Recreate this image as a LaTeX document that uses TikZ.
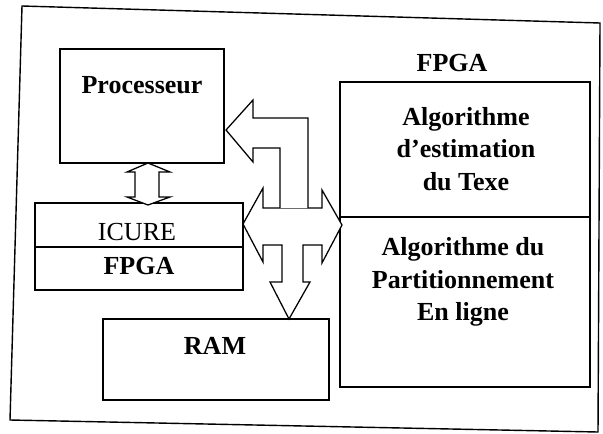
\documentclass[tikz,border=0pt]{standalone}
\usepackage{fontspec}
\setmainfont{Liberation Serif}
\begin{document}
\begin{tikzpicture}[x=0.025cm,y=-0.025cm]
    \tikzset{box/.style = {shape=rectangle,draw,line width=0.9pt,inner sep=0pt}}
    \tikzset{lbl/.style = {shape=rectangle,draw=none,inner sep=0pt,font=\fontsize{18.5}{23}\selectfont\bfseries,align=center}}
    \tikzset{blockarrow/.style = {draw,line width=0.9pt,line join=miter,fill=white}}

    \useasboundingbox (0,0) rectangle (603,433);
    % frame
    \draw[line width=1pt] (22,6) -- (600,23) -- (598,432) -- (10,420) -- cycle;

    % blocks
    \node[box,minimum width=4.1cm,minimum height=2.85cm] (proc) at (142,106) {};
    \node[box,minimum width=5.2cm,minimum height=1.1cm] (icure) at (139,225) {};
    \node[box,minimum width=5.2cm,minimum height=1.075cm] (fpgal) at (139,268.5) {};
    \node[box,minimum width=5.65cm,minimum height=2.025cm] (ram) at (216,359.5) {};
    \node[box,minimum width=6.25cm,minimum height=3.375cm] (estim) at (465,149.5) {};
    \node[box,minimum width=6.25cm,minimum height=4.25cm] (part) at (465,302) {};

    % texts
    \node[lbl] (proclbl) at (142,85) {Processeur};
    \node[lbl,font=\fontsize{18.5}{23}\selectfont] (icurelbl) at (137,232) {ICURE};
    \node[lbl] (fpgallbl) at (139,266) {FPGA};
    \node[lbl] (ramlbl) at (215,346) {RAM};
    \node[lbl] (fpgalbl) at (452,63) {FPGA};
    \node[lbl] (estimlbl) at (466,149) {Algorithme\\d'estimation\\du Texe};
    \node[lbl] (partlbl) at (463,282) {Algorithme du\\Partitionnement\\En ligne};

    % processeur <-> icure
    \draw[blockarrow] (148,163) -- (170,172) -- (159,172) -- (159,197) -- (170,197)
        -- (148,205) -- (127,197) -- (135,197) -- (135,172) -- (127,172) -- cycle;

    % bus: icure <-> algorithmes, down to ram
    \draw[blockarrow] (243,224) -- (263,188) -- (263,208) -- (322,208) -- (322,190)
        -- (342,225) -- (322,263) -- (322,245) -- (303,245) -- (303,282) -- (310,282)
        -- (289,319) -- (270,282) -- (282,282) -- (282,245) -- (263,245) -- (263,262) -- cycle;
    % up to processeur
    \draw[blockarrow] (280,208) -- (280,148) -- (253,148) -- (253,162) -- (226,130)
        -- (253,100) -- (253,118) -- (308,118) -- (308,208);
\end{tikzpicture}
\end{document}
